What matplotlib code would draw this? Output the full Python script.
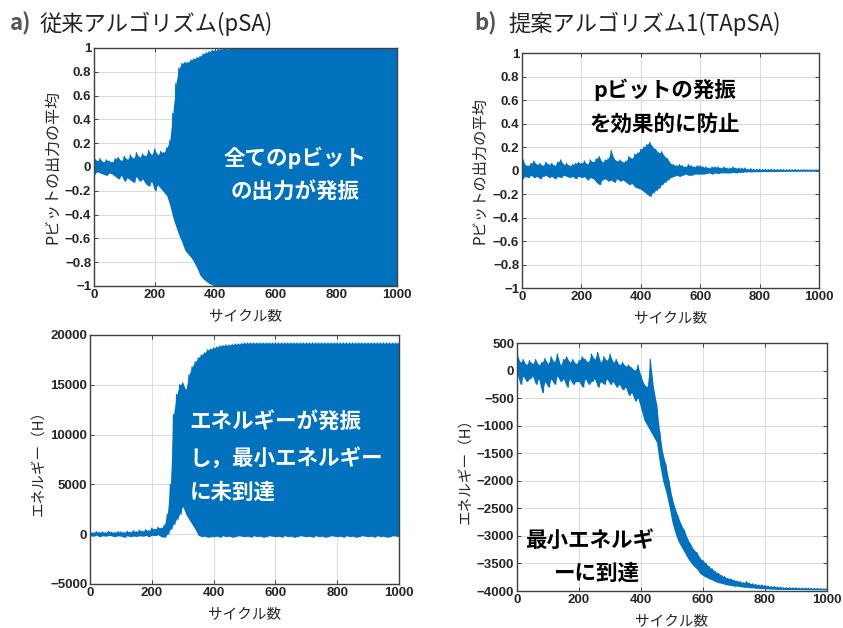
import numpy as np
import matplotlib
matplotlib.use("Agg")
import matplotlib.pyplot as plt

plt.rcParams['font.family'] = ['Noto Sans CJK JP', 'DejaVu Sans']

# cycle positions of the sampled peaks (upper at c, lower at c + 5)
cycles = np.arange(0, 1001, 10)

# a) pSA: mean p-bit output, upper / lower envelope
pA_hi = [0.08, 0.05, 0.07, 0.04, 0.06, 0.05, 0.04, 0.07, 0.08, 0.05,
         0.09, 0.06, 0.10, 0.07, 0.12, 0.08, 0.11, 0.09, 0.14, 0.10,
         0.15, 0.10, 0.13, 0.12, 0.16, 0.22, 0.45, 0.70, 0.83, 0.87,
         0.88, 0.88, 0.90, 0.91, 0.92, 0.93, 0.95, 0.96, 0.97, 0.98,
         0.98, 0.99, 0.99, 1.0, 0.99, 1.0, 1.0, 1.0, 1.0, 1.0,
         1.0, 1.0, 1.0, 1.0, 1.0, 1.0, 1.0, 1.0, 1.0, 1.0,
         1.0, 1.0, 1.0, 1.0, 1.0, 1.0, 1.0, 1.0, 1.0, 1.0,
         1.0, 1.0, 1.0, 1.0, 1.0, 1.0, 1.0, 1.0, 1.0, 1.0,
         1.0, 1.0, 1.0, 1.0, 1.0, 1.0, 1.0, 1.0, 1.0, 1.0,
         1.0, 1.0, 1.0, 1.0, 1.0, 1.0, 1.0, 1.0, 1.0, 1.0, 1.0]
pA_lo = [-0.06, -0.04, -0.05, -0.06, -0.07, -0.05, -0.06, -0.08, -0.10, -0.07,
         -0.12, -0.09, -0.11, -0.13, -0.08, -0.12, -0.10, -0.14, -0.16, -0.12,
         -0.20, -0.15, -0.18, -0.21, -0.24, -0.32, -0.42, -0.50, -0.57, -0.63,
         -0.70, -0.73, -0.76, -0.80, -0.85, -0.91, -0.94, -0.96, -0.98, -0.99,
         -1.0, -1.0, -1.0, -1.0, -1.0, -1.0, -1.0, -1.0, -1.0, -1.0,
         -1.0, -1.0, -1.0, -1.0, -1.0, -1.0, -1.0, -1.0, -1.0, -1.0,
         -1.0, -1.0, -1.0, -1.0, -1.0, -1.0, -1.0, -1.0, -1.0, -1.0,
         -1.0, -1.0, -1.0, -1.0, -1.0, -1.0, -1.0, -1.0, -1.0, -1.0,
         -1.0, -1.0, -1.0, -1.0, -1.0, -1.0, -1.0, -1.0, -1.0, -1.0,
         -1.0, -1.0, -1.0, -1.0, -1.0, -1.0, -1.0, -1.0, -1.0, -1.0, -1.0]

# a) pSA: energy
eA_hi = [200, 150, 250, 180, 220, 160, 280, 200, 170, 260,
         230, 180, 300, 200, 350, 250, 400, 300, 450, 350,
         600, 500, 700, 600, 900, 2000, 5000, 12000, 14000, 15000,
         15200, 14500, 16000, 16800, 17300, 17700, 18000, 18200, 18500, 18600,
         18700, 18800, 18900, 18950, 19000, 19000, 19050, 19100, 19100, 19150,
         19200, 19200, 19200, 19200, 19200, 19200, 19200, 19200, 19200, 19200,
         19200, 19200, 19200, 19200, 19200, 19200, 19200, 19200, 19200, 19200,
         19200, 19200, 19200, 19200, 19200, 19200, 19200, 19200, 19200, 19200,
         19200, 19200, 19200, 19200, 19200, 19200, 19200, 19200, 19200, 19200,
         19200, 19200, 19200, 19200, 19200, 19200, 19200, 19200, 19200, 19200, 19200]
eA_lo = [-150, -200, -100, -250, -150, -200, -120, -180, -250, -150,
         -200, -300, -150, -250, -180, -220, -150, -200, -120, -250,
         -100, -150, -50, -250, -300, 0, 500, 1000, 1500, 2000,
         2800, 2000, 1500, 1000, 500, -100, -250, -200, -300, -250,
         -250, -200, -300, -150, -250, -200, -300, -250, -150, -200,
         -250, -200, -300, -150, -250, -200, -300, -250, -150, -200,
         -250, -200, -300, -150, -250, -200, -300, -250, -150, -200,
         -250, -200, -300, -150, -250, -200, -300, -250, -150, -200,
         -250, -200, -300, -150, -250, -200, -300, -250, -150, -200,
         -250, -200, -300, -150, -250, -200, -300, -250, -150, -200, -250]

# b) TApSA: mean p-bit output
pB_hi = [0.12, 0.05, 0.04, 0.06, 0.08, 0.05, 0.06, 0.04, 0.07, 0.05,
         0.06, 0.04, 0.07, 0.09, 0.05, 0.06, 0.04, 0.05, 0.06, 0.07,
         0.06, 0.08, 0.05, 0.09, 0.07, 0.10, 0.12, 0.07, 0.09, 0.10,
         0.17, 0.10, 0.08, 0.09, 0.07, 0.08, 0.12, 0.10, 0.14, 0.15,
         0.18, 0.20, 0.22, 0.24, 0.20, 0.18, 0.15, 0.16, 0.12, 0.10,
         0.06, 0.05, 0.04, 0.05, 0.04, 0.03, 0.05, 0.04, 0.03, 0.04,
         0.04, 0.03, 0.03, 0.02, 0.03, 0.03, 0.03, 0.02, 0.03, 0.02,
         0.02, 0.03, 0.02, 0.02, 0.02, 0.02, 0.01, 0.015, 0.01, 0.01,
         0.01, 0.008, 0.01, 0.008, 0.01, 0.008, 0.007, 0.008, 0.007, 0.006,
         0.007, 0.006, 0.007, 0.006, 0.005, 0.006, 0.005, 0.006, 0.005, 0.005, 0.005]
pB_lo = [-0.07, -0.05, -0.06, -0.04, -0.06, -0.05, -0.07, -0.05, -0.04, -0.06,
         -0.05, -0.07, -0.05, -0.06, -0.04, -0.05, -0.06, -0.05, -0.07, -0.05,
         -0.06, -0.05, -0.08, -0.06, -0.07, -0.10, -0.12, -0.08, -0.07, -0.09,
         -0.08, -0.10, -0.07, -0.09, -0.08, -0.10, -0.12, -0.11, -0.14, -0.15,
         -0.16, -0.18, -0.20, -0.22, -0.19, -0.17, -0.15, -0.12, -0.10, -0.08,
         -0.06, -0.05, -0.04, -0.05, -0.04, -0.03, -0.04, -0.04, -0.03, -0.03,
         -0.03, -0.03, -0.025, -0.02, -0.03, -0.02, -0.025, -0.02, -0.02, -0.02,
         -0.02, -0.015, -0.02, -0.015, -0.015, -0.012, -0.01, -0.012, -0.01, -0.01,
         -0.01, -0.008, -0.009, -0.008, -0.007, -0.008, -0.007, -0.006, -0.007, -0.006,
         -0.006, -0.005, -0.006, -0.005, -0.005, -0.005, -0.004, -0.005, -0.004, -0.004, -0.004]

# b) TApSA: energy
eB_hi = [300, 150, 200, 100, 180, 120, 200, 100, 150, 220,
         120, 250, 150, 300, 100, 200, 250, 150, 200, 120,
         180, 250, 200, 150, 300, 200, 330, 150, 250, 180,
         300, 150, 200, 100, 150, 80, 100, 50, 0, 100,
         -100, -250, -300, 200, -300, -600, -1100, -1500, -1700, -2000,
         -2300, -2500, -2650, -2800, -2900, -3050, -3150, -3250, -3300, -3400,
         -3450, -3500, -3560, -3600, -3650, -3680, -3720, -3740, -3770, -3780,
         -3800, -3820, -3830, -3850, -3830, -3860, -3870, -3880, -3890, -3890,
         -3900, -3910, -3920, -3920, -3930, -3930, -3940, -3940, -3940, -3945,
         -3945, -3950, -3950, -3950, -3950, -3955, -3955, -3955, -3960, -3960, -3960]
eB_lo = [-50, -250, -100, -200, -150, -100, -250, -150, -400, -200,
         -300, -150, -250, -100, -200, -150, -300, -150, -250, -200,
         -200, -300, -150, -250, -200, -150, -300, -200, -250, -150,
         -250, -200, -300, -250, -350, -300, -450, -400, -550, -500,
         -700, -900, -1000, -1100, -1200, -1300, -1700, -2000, -2200, -2450,
         -2750, -2950, -3100, -3200, -3300, -3400, -3480, -3550, -3600, -3680,
         -3720, -3750, -3780, -3800, -3830, -3850, -3860, -3880, -3890, -3900,
         -3910, -3910, -3920, -3930, -3930, -3940, -3940, -3950, -3950, -3955,
         -3960, -3960, -3965, -3965, -3970, -3970, -3970, -3972, -3972, -3973,
         -3973, -3974, -3974, -3975, -3975, -3975, -3976, -3976, -3976, -3977, -3977]

xticks = [0, 200, 400, 600, 800, 1000]
p_ticks = [-1, -0.8, -0.6, -0.4, -0.2, 0, 0.2, 0.4, 0.6, 0.8, 1]
p_labels = ['\u22121', '\u22120.8', '\u22120.6', '\u22120.4', '\u22120.2', '0',
            '0.2', '0.4', '0.6', '0.8', '1']

BLUE = '#0072BD'
TICKC = '#262626'


def draw_signal(ax, hi, lo):
    # band between the envelopes, plus a zigzag line for the jagged edge
    ax.fill_between(cycles, lo, hi, color=BLUE, linewidth=0)
    x = np.column_stack([cycles, cycles + 5]).ravel()
    y = np.column_stack([hi, lo]).ravel()
    ax.plot(x, y, color=BLUE, linewidth=0.9)


def style(ax, ylabel, ylsize):
    ax.set_xlim(0, 1000)
    ax.set_xticks(xticks)
    ax.grid(True, color='#dcdcdc', linewidth=0.8)
    ax.set_axisbelow(True)
    ax.tick_params(direction='in', top=True, right=True, length=3,
                   labelsize=9.5, colors=TICKC, width=0.6, pad=2)
    for lab in ax.get_xticklabels() + ax.get_yticklabels():
        lab.set_fontweight('bold')
        lab.set_family(['Liberation Sans', 'DejaVu Sans'])
    for s in ax.spines.values():
        s.set_color('#404040')
        s.set_linewidth(1.0)
    ax.set_xlabel('サイクル数', fontsize=10.5, color=TICKC, labelpad=7)
    ax.set_ylabel(ylabel, fontsize=ylsize, color=TICKC, labelpad=3)


fig = plt.figure(figsize=(8.43, 6.28), dpi=100)
ann = dict(fontsize=15.5, fontweight='bold', va='center')

# a) top
ax1 = fig.add_axes([0.1115, 0.5446, 0.3594, 0.379])
draw_signal(ax1, pA_hi, pA_lo)
ax1.set_ylim(-1, 1)
ax1.set_yticks(p_ticks)
ax1.set_yticklabels(p_labels)
style(ax1, 'Pビットの出力の平均', 11.5)
ax1.text(665, 0.08, '全てのpビット', color='white', ha='center', **ann)
ax1.text(665, -0.21, 'の出力が発振', color='white', ha='center', **ann)

# b) top
ax2 = fig.add_axes([0.6192, 0.5414, 0.3523, 0.3742])
draw_signal(ax2, pB_hi, pB_lo)
ax2.set_ylim(-1, 1)
ax2.set_yticks(p_ticks)
ax2.set_yticklabels(p_labels)
style(ax2, 'Pビットの出力の平均', 11)
ax2.text(482, 0.69, 'pビットの発振', color='black', ha='center', **ann)
ax2.text(482, 0.39, 'を効果的に防止', color='black', ha='center', **ann)

# a) bottom
ax3 = fig.add_axes([0.1068, 0.0701, 0.3665, 0.3965])
draw_signal(ax3, eA_hi, eA_lo)
ax3.set_ylim(-5000, 20000)
ax3.set_yticks([-5000, 0, 5000, 10000, 15000, 20000])
ax3.set_yticklabels(['\u22125000', '0', '5000', '10000', '15000', '20000'])
style(ax3, 'エネルギー（H）', 10.5)
for i, s in enumerate(['エネルギーが発振', 'し，最小エネルギー', 'に未到達']):
    ax3.text(322, 11200 - i * 3500, s, color='white', ha='left', **ann)

# b) bottom
ax4 = fig.add_axes([0.6133, 0.0589, 0.3677, 0.3949])
draw_signal(ax4, eB_hi, eB_lo)
ax4.set_ylim(-4000, 500)
ax4.set_yticks(np.arange(-4000, 501, 500))
ax4.set_yticklabels([str(v).replace('-', '\u2212') for v in range(-4000, 501, 500)])
style(ax4, 'エネルギー（H）', 10.5)
ax4.text(235, -3080, '最小エネルギ', color='black', ha='center', **ann)
ax4.text(255, -3680, 'ーに到達', color='black', ha='center', **ann)

# panel titles
tit = dict(fontsize=16, va='center', ha='left')
fig.text(0.012, 0.962, 'a)', fontweight='bold', color='#555555', **tit)
fig.text(0.047, 0.962, '従来アルゴリズム(pSA)', color='#222222', **tit)
fig.text(0.563, 0.962, 'b)', fontweight='bold', color='#555555', **tit)
fig.text(0.603, 0.962, '提案アルゴリズム1(TApSA)', color='#222222', **tit)

fig.savefig('out.png', dpi=100, facecolor='white')
